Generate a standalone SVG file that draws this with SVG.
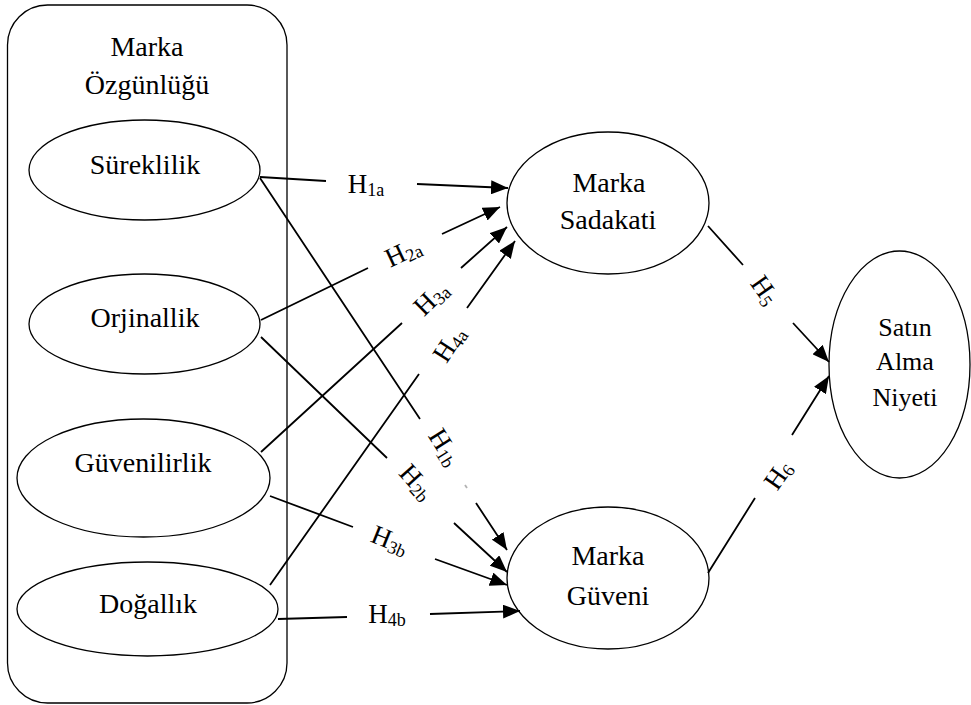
<svg xmlns="http://www.w3.org/2000/svg" width="971" height="705" viewBox="0 0 971 705">
  <style>
    .shape { fill: #ffffff; stroke: #000000; stroke-width: 1.3; }
    .label { font-family: "Liberation Serif", "Times New Roman", serif; font-size: 28px; fill: #000000; text-anchor: middle; }
    .small { font-size: 26px; }
    .hyp { font-family: "Liberation Serif", "Times New Roman", serif; font-size: 27px; fill: #000000; text-anchor: middle; }
    .sub { font-size: 18px; }
    .conn { fill: none; stroke: #000000; stroke-width: 1.8; }
  </style>
  <defs>
    <marker id="arrow" markerUnits="userSpaceOnUse" markerWidth="17" markerHeight="14" refX="17" refY="7" orient="auto">
      <path d="M0,0 L17,7 L0,14 z" fill="#000000"/>
    </marker>
  </defs>

  <!-- Brand authenticity construct with its four dimensions -->
  <g id="marka-ozgunlugu">
    <rect class="shape" x="7.5" y="5" width="279.5" height="698" rx="40" ry="40"/>
    <text class="label" x="147" y="56">Marka</text>
    <text class="label" x="147" y="94">Özgünlüğü</text>
  </g>
  <g id="sureklilik">
    <ellipse class="shape" cx="144.5" cy="170" rx="115.5" ry="50"/>
    <text class="label" x="145" y="174">Süreklilik</text>
  </g>
  <g id="orjinallik">
    <ellipse class="shape" cx="144.5" cy="324" rx="115.5" ry="50"/>
    <text class="label" x="145" y="327">Orjinallik</text>
  </g>
  <g id="guvenilirlik">
    <ellipse class="shape" cx="143.5" cy="478" rx="126.5" ry="59"/>
    <text class="label" x="143" y="472">Güvenilirlik</text>
  </g>
  <g id="dogallik">
    <ellipse class="shape" cx="147.5" cy="609" rx="130.5" ry="47"/>
    <text class="label" x="148" y="613">Doğallık</text>
  </g>

  <!-- Outcome constructs -->
  <g id="marka-sadakati">
    <ellipse class="shape" cx="608" cy="203" rx="101" ry="71"/>
    <text class="label" x="609" y="192">Marka</text>
    <text class="label" x="608" y="229">Sadakati</text>
  </g>
  <g id="marka-guveni">
    <ellipse class="shape" cx="608" cy="578" rx="101" ry="71"/>
    <text class="label" x="608" y="565">Marka</text>
    <text class="label" x="608" y="605">Güveni</text>
  </g>
  <g id="satin-alma-niyeti">
    <ellipse class="shape" cx="899.5" cy="364.5" rx="70.5" ry="113.5"/>
    <text class="label small" x="905" y="336">Satın</text>
    <text class="label small" x="905" y="370">Alma</text>
    <text class="label small" x="905" y="406">Niyeti</text>
  </g>

  <!-- Hypothesis paths: each line is broken where its label sits -->
  <g id="connectors">
    <path class="conn" d="M260,177 L326,181 M417,184 L508,188" marker-end="url(#arrow)"/>
    <path class="conn" d="M260,178 L420,419 M476,503 L507,550" marker-end="url(#arrow)"/>
    <path class="conn" d="M465,485 L467,488" stroke-opacity="0.3"/>
    <path class="conn" d="M261,320 L368,268 M442,234 L500,207" marker-end="url(#arrow)"/>
    <path class="conn" d="M261,337 L387,458 M454,523 L507,572" marker-end="url(#arrow)"/>
    <path class="conn" d="M261,452 L402,323 M461,268 L507,227" marker-end="url(#arrow)"/>
    <path class="conn" d="M270,496 L353,527 M435,559 L507,585" marker-end="url(#arrow)"/>
    <path class="conn" d="M270,585 L419,374 M467,308 L515,241" marker-end="url(#arrow)"/>
    <path class="conn" d="M278,619 L347,617 M430,614 L520,611" marker-end="url(#arrow)"/>
    <path class="conn" d="M708,226 L743,265 M793,323 L829,362" marker-end="url(#arrow)"/>
    <path class="conn" d="M708,573 L755,498 M792,435 L829,376" marker-end="url(#arrow)"/>
  </g>

  <!-- Hypothesis labels -->
  <g id="hypothesis-labels">
    <text class="hyp" x="366" y="193">H<tspan class="sub" dy="3">1a</tspan></text>
    <text class="hyp" transform="translate(403,252) rotate(-25)" y="9">H<tspan class="sub" dy="3">2a</tspan></text>
    <text class="hyp" transform="translate(431,298) rotate(-44)" y="9">H<tspan class="sub" dy="3">3a</tspan></text>
    <text class="hyp" transform="translate(449,344) rotate(-57)" y="9">H<tspan class="sub" dy="3">4a</tspan></text>
    <text class="hyp" transform="translate(445,447) rotate(58)" y="9">H<tspan class="sub" dy="3">1b</tspan></text>
    <text class="hyp" transform="translate(417,482) rotate(48)" y="9">H<tspan class="sub" dy="3">2b</tspan></text>
    <text class="hyp" transform="translate(390,540) rotate(22)" y="9">H<tspan class="sub" dy="3">3b</tspan></text>
    <text class="hyp" x="387" y="623">H<tspan class="sub" dy="3">4b</tspan></text>
    <text class="hyp" transform="translate(765,290) rotate(55)" y="9">H<tspan class="sub" dy="3">5</tspan></text>
    <text class="hyp" transform="translate(778,475) rotate(-55)" y="9">H<tspan class="sub" dy="3">6</tspan></text>
  </g>
</svg>
